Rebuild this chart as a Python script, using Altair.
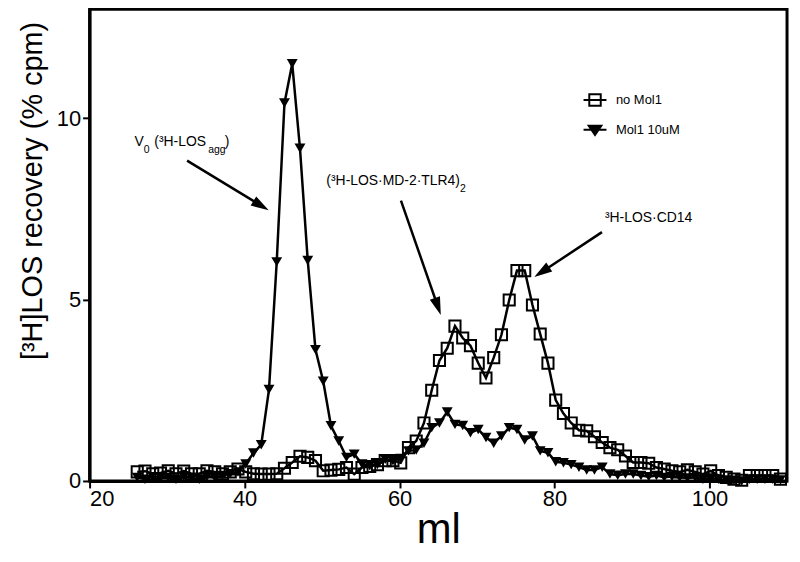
import altair as alt
import pandas as pd

FONT = "Liberation Sans, Arial, sans-serif"

series_names = ["no Mol1", "Mol1 10uM"]

ml = [26.15, 27.15, 28.15, 29.15, 30.15, 31.15, 32.15, 33.15, 34.15, 35.15,
      36.15, 37.15, 38.15, 39.15, 40.15, 41.15, 42.15, 43.15, 44.15, 45.15,
      46.15, 47.15, 48.15, 49.15, 50.15, 51.15, 52.15, 53.15, 54.15, 55.15,
      56.15, 57.15, 58.15, 59.15, 60.15, 61.15, 62.15, 63.15, 64.15, 65.15,
      66.15, 67.15, 68.15, 69.15, 70.15, 71.15, 72.15, 73.15, 74.15, 75.15,
      76.15, 77.15, 78.15, 79.15, 80.15, 81.15, 82.15, 83.15, 84.15, 85.15,
      86.15, 87.15, 88.15, 89.15, 90.15, 91.15, 92.15, 93.15, 94.15, 95.15,
      96.15, 97.15, 98.15, 99.15, 100.15, 101.15, 102.15, 103.15, 104.15, 105.15,
      106.15, 107.15, 108.15, 109.15]

no_mol1 = [0.25, 0.27, 0.20, 0.22, 0.28, 0.20, 0.27, 0.20, 0.20, 0.28,
           0.25, 0.20, 0.25, 0.33, 0.25, 0.20, 0.19, 0.19, 0.20, 0.35,
           0.51, 0.68, 0.65, 0.56, 0.28, 0.30, 0.32, 0.37, 0.19, 0.37,
           0.40, 0.45, 0.56, 0.56, 0.50, 0.92, 1.10, 1.60, 2.50, 3.32,
           3.66, 4.27, 3.94, 3.73, 3.25, 2.84, 3.40, 4.03, 4.99, 5.80,
           5.80, 4.85, 4.05, 3.25, 2.23, 1.86, 1.60, 1.40, 1.38, 1.22,
           1.06, 0.92, 0.86, 0.69, 0.51, 0.51, 0.49, 0.37, 0.33, 0.28,
           0.25, 0.31, 0.25, 0.19, 0.28, 0.15, 0.10, 0.05, 0.02, 0.15,
           0.15, 0.15, 0.15, 0.05]

mol1_10uM = [0.10, 0.05, 0.12, 0.08, 0.10, 0.05, 0.12, 0.08, 0.05, 0.12,
             0.10, 0.15, 0.20, 0.25, 0.47, 0.77, 1.00, 2.52, 6.04, 10.42,
             11.50, 9.17, 6.08, 3.62, 2.75, 1.52, 1.10, 0.65, 0.74, 0.47,
             0.42, 0.45, 0.60, 0.56, 0.62, 0.83, 0.85, 1.04, 1.47, 1.60,
             1.90, 1.56, 1.53, 1.33, 1.42, 1.20, 1.04, 1.24, 1.47, 1.42,
             1.13, 1.24, 0.83, 0.78, 0.53, 0.50, 0.45, 0.38, 0.30, 0.30,
             0.38, 0.19, 0.16, 0.19, 0.19, 0.15, 0.12, 0.15, 0.10, 0.12,
             0.10, 0.08, 0.10, 0.05, 0.08, 0.05, 0.03, 0.02, 0.00, 0.05,
             0.05, 0.05, 0.05, 0.03]

x_ticks = [20, 40, 60, 80, 100]
y_ticks = [0, 5, 10]

# annotation texts (anchor in data units)
ann_text = ["V", "(\u00b3H-LOS", ")", "(\u00b3H-LOS\u00b7MD-2\u00b7TLR4)", "\u00b3H-LOS\u00b7CD14"]
ann_x = [25.8, 28.35, 37.45, 50.55, 86.5]
ann_y = [9.35, 9.35, 9.35, 8.28, 7.24]
sub_text = ["0", "agg", "2"]
sub_x = [27.0, 35.3, 67.8]
sub_y = [9.12, 9.12, 8.05]

# arrows: start and arrow-head centre, head angle
arrow_x1 = [32.58, 60.18, 86.12]
arrow_y1 = [8.83, 7.73, 6.86]
arrow_x2 = [42.13, 64.94, 78.35]
arrow_y2 = [7.59, 4.81, 5.76]
arrow_angle = [31.4, 70.8, 146.5]

df = pd.DataFrame({
    "ml": ml + ml,
    "value": no_mol1 + mol1_10uM,
    "series": [series_names[0]] * len(ml) + [series_names[1]] * len(ml),
})
txt_df = pd.DataFrame({"ml": ann_x, "value": ann_y, "label": ann_text})
sub_df = pd.DataFrame({"ml": sub_x, "value": sub_y, "label": sub_text})
arr_df = pd.DataFrame({"ml": arrow_x1, "value": arrow_y1, "ml2": arrow_x2,
                       "value2": arrow_y2, "angle": arrow_angle})

x_enc = alt.X("ml:Q", scale=alt.Scale(domain=[20, 110], nice=False, zero=False),
              axis=alt.Axis(values=x_ticks, title="ml", titleFontSize=42,
                            titleFontWeight="normal", titlePadding=0, labelPadding=1,
                            format="d"))
y_enc = alt.Y("value:Q", scale=alt.Scale(domain=[0, 13], nice=False),
              axis=alt.Axis(values=y_ticks, title="[\u00b3H]LOS recovery (% cpm)",
                            titleFontSize=29, titleFontWeight="normal",
                            titleX=-48, titleY=182, titleBaseline="alphabetic",
                            labelPadding=2, format="d"))

base = alt.Chart(df)

lines = base.mark_line(color="black", strokeWidth=2.5).encode(
    x=x_enc, y=y_enc, detail="series:N")

squares = base.transform_filter(alt.datum.series == series_names[0]).mark_point(
    shape="square", filled=False, color="black", size=125, strokeWidth=2, opacity=1
).encode(x="ml:Q", y="value:Q")

triangles = base.transform_filter(alt.datum.series == series_names[1]).mark_point(
    shape="triangle-down", filled=True, color="black", size=120, opacity=1
).encode(x="ml:Q", y="value:Q")

sq_path = "M-1,0H1M-0.5,-0.5H0.5V0.5H-0.5Z"
tri_path = "M-1,0H1M-0.55,-0.35H0.55L0,0.45Z"
leg = alt.Legend(title=None, orient="none", legendX=495, legendY=78,
                 symbolSize=530, symbolStrokeWidth=2, symbolStrokeColor="black",
                 symbolOpacity=1,
                 labelFontSize=13, labelOffset=8, rowPadding=7, padding=0,
                 labelColor="black", labelFont=FONT)
legend_layer = base.transform_filter("false").mark_point(
    filled=False, color="black", stroke="black", strokeWidth=2, size=530, opacity=1
).encode(
    x="ml:Q", y="value:Q",
    shape=alt.Shape("series:N", scale=alt.Scale(domain=series_names, range=[sq_path, tri_path]),
                    legend=leg),
    fill=alt.Fill("series:N", scale=alt.Scale(domain=series_names, range=["white", "black"]),
                  legend=leg),
    stroke=alt.Stroke("series:N", scale=alt.Scale(domain=series_names, range=["black", "black"]),
                      legend=leg),
)

rules = alt.Chart(arr_df).mark_rule(color="black", strokeWidth=2.5).encode(
    x="ml:Q", y="value:Q", x2="ml2:Q", y2="value2:Q")
heads = alt.Chart(arr_df).mark_point(
    shape="M1,0L-1,-0.6L-1,0.6Z", filled=True, color="black", size=324, opacity=1
).encode(x="ml2:Q", y="value2:Q", angle=alt.Angle("angle:Q", scale=None))

texts = alt.Chart(txt_df).mark_text(
    align="left", baseline="middle", fontSize=14, font=FONT, color="black"
).encode(x="ml:Q", y="value:Q", text="label:N")
subs = alt.Chart(sub_df).mark_text(
    align="left", baseline="middle", fontSize=10.5, font=FONT, color="black"
).encode(x="ml:Q", y="value:Q", text="label:N")

chart = alt.layer(lines, squares, triangles, legend_layer, rules, heads, texts, subs).properties(
    width=701, height=474,
    autosize=alt.AutoSizeParams(type="none"),
    padding={"left": 82, "top": 0, "right": 5, "bottom": 70},
).configure_view(
    stroke="black", strokeWidth=3
).configure_axis(
    grid=False, domainColor="black", domainWidth=3, tickColor="black", tickWidth=2,
    tickSize=7, labelFontSize=22, labelColor="black", titleColor="black",
    labelFont=FONT, titleFont=FONT
).configure_legend(
    labelFont=FONT
)

chart.save("out.html", embed_options={"renderer": "svg", "actions": False})
